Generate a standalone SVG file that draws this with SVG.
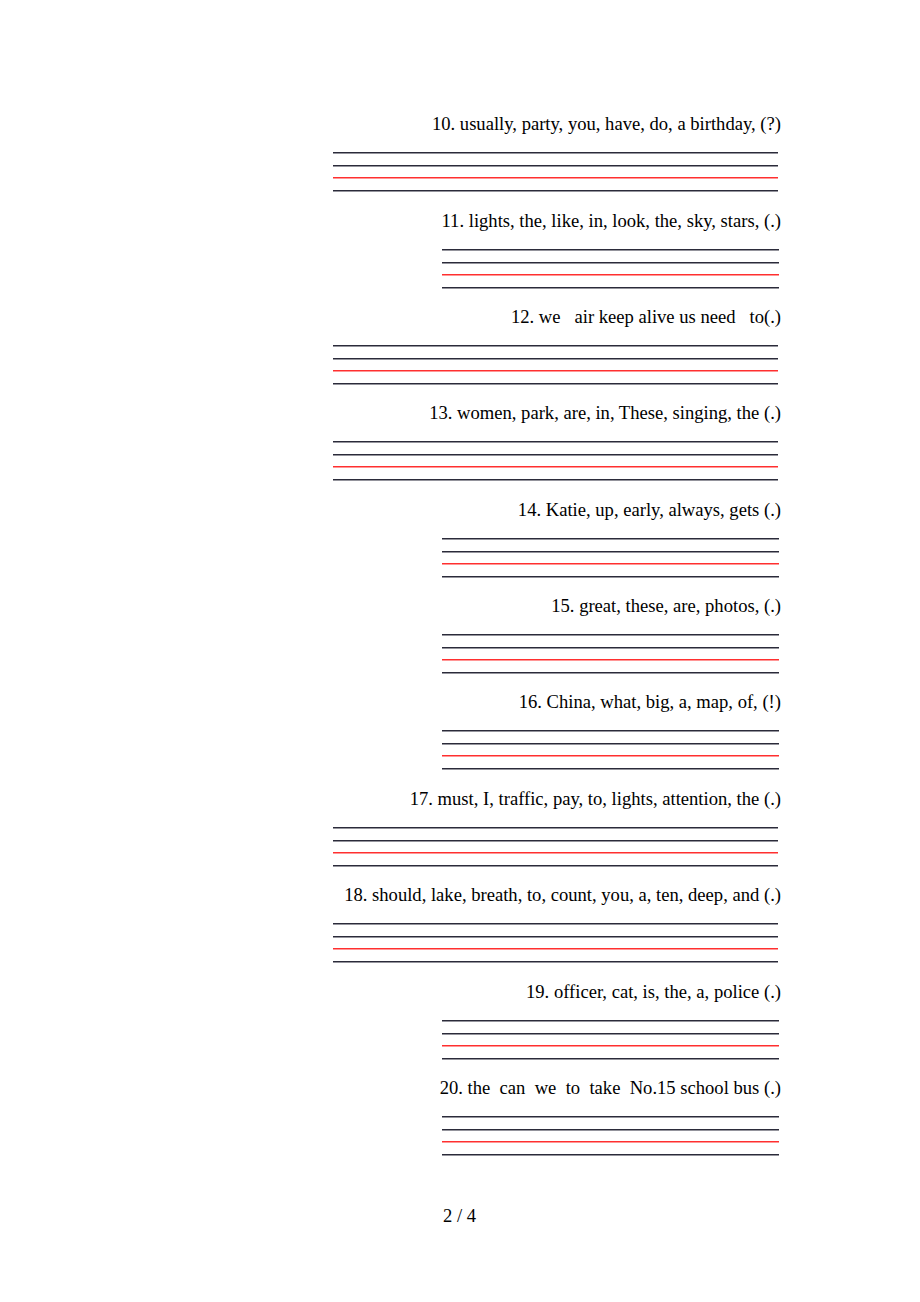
<svg xmlns="http://www.w3.org/2000/svg" width="920" height="1302" viewBox="0 0 920 1302">
<style>
text{font-family:"Liberation Serif","Times New Roman",serif;font-size:18.6px;fill:#000}
.q{text-anchor:end}
.d{fill:#2b2b3a}
.r{fill:#ff2f2f}
</style>
<defs>
<g id="wide">
<rect class="d" x="333" y="22" width="445" height="1.5"/>
<rect class="d" x="333" y="35" width="445" height="1.5"/>
<rect class="r" x="333" y="47" width="445" height="1.5"/>
<rect class="d" x="333" y="60" width="445" height="1.5"/>
</g>
<g id="narrow">
<rect class="d" x="442" y="22" width="337" height="1.5"/>
<rect class="d" x="442" y="35" width="337" height="1.5"/>
<rect class="r" x="442" y="47" width="337" height="1.5"/>
<rect class="d" x="442" y="60" width="337" height="1.5"/>
</g>
</defs>
<g id="q10" transform="translate(0,130)"><text class="q" x="781" y="0">10. usually, party, you, have, do, a birthday, (?)</text><use href="#wide"/></g>
<g id="q11" transform="translate(0,227)"><text class="q" x="781" y="0">11. lights, the, like, in, look, the, sky, stars, (.)</text><use href="#narrow"/></g>
<g id="q12" transform="translate(0,323)"><text class="q" x="781" y="0" xml:space="preserve">12. we   air keep alive us need   to(.)</text><use href="#wide"/></g>
<g id="q13" transform="translate(0,419)"><text class="q" x="781" y="0">13. women, park, are, in, These, singing, the (.)</text><use href="#wide"/></g>
<g id="q14" transform="translate(0,516)"><text class="q" x="781" y="0">14. Katie, up, early, always, gets (.)</text><use href="#narrow"/></g>
<g id="q15" transform="translate(0,612)"><text class="q" x="781" y="0">15. great, these, are, photos, (.)</text><use href="#narrow"/></g>
<g id="q16" transform="translate(0,708)"><text class="q" x="781" y="0">16. China, what, big, a, map, of, (!)</text><use href="#narrow"/></g>
<g id="q17" transform="translate(0,805)"><text class="q" x="781" y="0">17. must, I, traffic, pay, to, lights, attention, the (.)</text><use href="#wide"/></g>
<g id="q18" transform="translate(0,901)"><text class="q" x="781" y="0">18. should, lake, breath, to, count, you, a, ten, deep, and (.)</text><use href="#wide"/></g>
<g id="q19" transform="translate(0,998)"><text class="q" x="781" y="0">19. officer, cat, is, the, a, police (.)</text><use href="#narrow"/></g>
<g id="q20" transform="translate(0,1094)"><text class="q" x="781" y="0" xml:space="preserve">20. the  can  we  to  take  No.15 school bus (.)</text><use href="#narrow"/></g>
<g id="page"><text x="459.5" y="1222" text-anchor="middle">2 / 4</text></g>
</svg>
